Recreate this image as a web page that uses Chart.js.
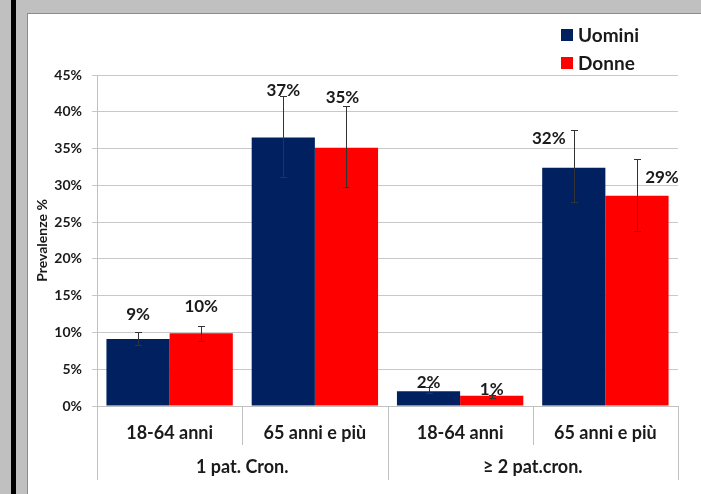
<!DOCTYPE html>
<html>
<head>
<meta charset="utf-8">
<script src="https://cdn.jsdelivr.net/npm/chart.js@4.4.1/dist/chart.umd.min.js"></script>
<style>
  html, body { margin: 0; padding: 0; overflow: hidden; }
  body { width: 701px; height: 494px; background: #c0c0c0; position: relative; }
  #bar { position: absolute; left: 11px; top: 0; width: 5px; height: 494px; background: #000; }
  #box { position: absolute; left: 27px; top: 13px; width: 674px; height: 481px; background: #fff;
         border-left: 1px solid #8c8c8c; border-top: 1px solid #8c8c8c; box-sizing: border-box; }
  #wrap { position: absolute; left: 28px; top: 14px; width: 673px; height: 480px; }
</style>
</head>
<body>
<div id="bar"></div>
<div id="box"></div>
<div id="wrap"><canvas id="chart"></canvas></div>
<script>
// categorie e gruppi
const categorie = ['18-64 anni', '65 anni e più', '18-64 anni', '65 anni e più'];
const gruppi = ['1 pat. Cron.', '≥ 2 pat.cron.'];
const yTicks = [0, 5, 10, 15, 20, 25, 30, 35, 40, 45];

// prevalenze (%)
const uomini = [9.1, 36.5, 2.0, 32.4];
const donne = [9.9, 35.1, 1.4, 28.6];

// intervalli di confidenza (%)
const uominiLow = [8.3, 31.2, 1.7, 27.7];
const uominiHigh = [10.1, 42.1, 2.6, 37.5];
const donneLow = [8.8, 29.8, 1.05, 23.8];
const donneHigh = [10.9, 40.8, 1.5, 33.6];

// spostamenti delle etichette (px, rispetto alla cima della barra d'errore)
const offUomini = [[0, -18], [0, -6], [0, -5], [-25, 8]];
const offDonne = [[0, -20], [-4, -9], [0, -6], [25, 18]];

const FONT = 'Lato, "Open Sans", sans-serif';
const TXT = '#1a1a1a';

const erroriPlugin = {
  id: 'errori',
  afterDatasetsDraw(chart) {
    const ctx = chart.ctx;
    const y = chart.scales.y;
    chart.data.datasets.forEach((ds, di) => {
      const meta = chart.getDatasetMeta(di);
      meta.data.forEach((bar, i) => {
        const x = Math.round(bar.x) + 0.5;
        const yl = Math.round(y.getPixelForValue(ds.errLow[i])) + 0.5;
        const yh = Math.round(y.getPixelForValue(ds.errHigh[i])) + 0.5;
        ctx.save();
        ctx.strokeStyle = '#333';
        ctx.lineWidth = 1;
        ctx.beginPath();
        ctx.moveTo(x, yl); ctx.lineTo(x, yh);
        ctx.moveTo(x - 3.5, yh); ctx.lineTo(x + 3.5, yh);
        ctx.moveTo(x - 3.5, yl); ctx.lineTo(x + 3.5, yl);
        ctx.stroke();
        const [dx, dy] = ds.labelOff[i];
        ctx.font = 'bold 17px ' + FONT;
        ctx.fillStyle = TXT;
        ctx.textAlign = 'center';
        ctx.textBaseline = 'middle';
        ctx.fillText(Math.round(ds.data[i]) + '%', bar.x + dx, yh + dy);
        ctx.restore();
      });
    });
  },
};

const assePlugin = {
  id: 'asseGruppi',
  afterDraw(chart) {
    const ctx = chart.ctx;
    const xs = chart.scales.x;
    const area = chart.chartArea;
    const n = categorie.length;
    const step = (area.right - area.left) / n;
    const bordi = [];
    for (let k = 0; k <= n; k++) bordi.push(xs.getPixelForValue(0) - step / 2 + k * step);
    ctx.save();
    ctx.strokeStyle = '#c0c0c0';
    ctx.lineWidth = 1;
    ctx.beginPath();
    bordi.forEach((bx, k) => {
      const px = Math.round(bx) + 0.5;
      const len = k % 2 === 0 ? 74 : 39;
      ctx.moveTo(px, area.bottom);
      ctx.lineTo(px, area.bottom + len);
    });
    ctx.stroke();
    ctx.font = 'bold 18px ' + FONT;
    ctx.fillStyle = TXT;
    ctx.textAlign = 'center';
    ctx.textBaseline = 'middle';
    gruppi.forEach((g, gi) => {
      ctx.fillText(g, (bordi[gi * 2] + bordi[gi * 2 + 2]) / 2, area.bottom + 61);
    });
    // legenda
    const items = chart.data.datasets;
    ctx.font = 'bold 19px ' + FONT;
    ctx.textAlign = 'left';
    items.forEach((ds, i) => {
      const cy = 21 + i * 28;
      ctx.fillStyle = ds.backgroundColor;
      ctx.fillRect(533, cy - 6, 12, 12);
      ctx.fillStyle = TXT;
      ctx.fillText(ds.label, 550, cy + 1);
    });
    ctx.restore();
  },
};

new Chart(document.getElementById('chart'), {
  type: 'bar',
  data: {
    labels: categorie,
    datasets: [
      { label: 'Uomini', data: uomini, errLow: uominiLow, errHigh: uominiHigh, labelOff: offUomini,
        backgroundColor: '#002060', categoryPercentage: 0.87, barPercentage: 1.0 },
      { label: 'Donne', data: donne, errLow: donneLow, errHigh: donneHigh, labelOff: offDonne,
        backgroundColor: '#ff0000', categoryPercentage: 0.87, barPercentage: 1.0 },
    ],
  },
  options: {
    responsive: true,
    maintainAspectRatio: false,
    animation: false,
    layout: { padding: { top: 61, right: 23, bottom: 0, left: 6 } },
    plugins: { legend: { display: false }, tooltip: { enabled: false } },
    scales: {
      x: {
        grid: { display: false, drawTicks: false },
        border: { display: true, color: '#c0c0c0' },
        ticks: { padding: 16, color: TXT, font: { family: FONT, size: 18, weight: 'bold' } },
        afterFit(s) { s.height = 88; },
      },
      y: {
        min: 0,
        max: 45,
        afterBuildTicks(s) { s.ticks = yTicks.map((v) => ({ value: v })); },
        grid: { color: '#c8c8c8', tickLength: 5 },
        border: { display: true, color: '#c0c0c0' },
        ticks: { padding: 10, color: TXT, font: { family: FONT, size: 14, weight: 'bold' }, callback: (v) => v + '%' },
        title: { display: true, text: 'Prevalenze %', color: TXT, padding: { top: 0, bottom: 0 }, font: { family: FONT, size: 14, weight: 'bold' } },
        afterFit(s) { s.width = 63; },
      },
    },
  },
  plugins: [erroriPlugin, assePlugin],
});
</script>
</body>
</html>
